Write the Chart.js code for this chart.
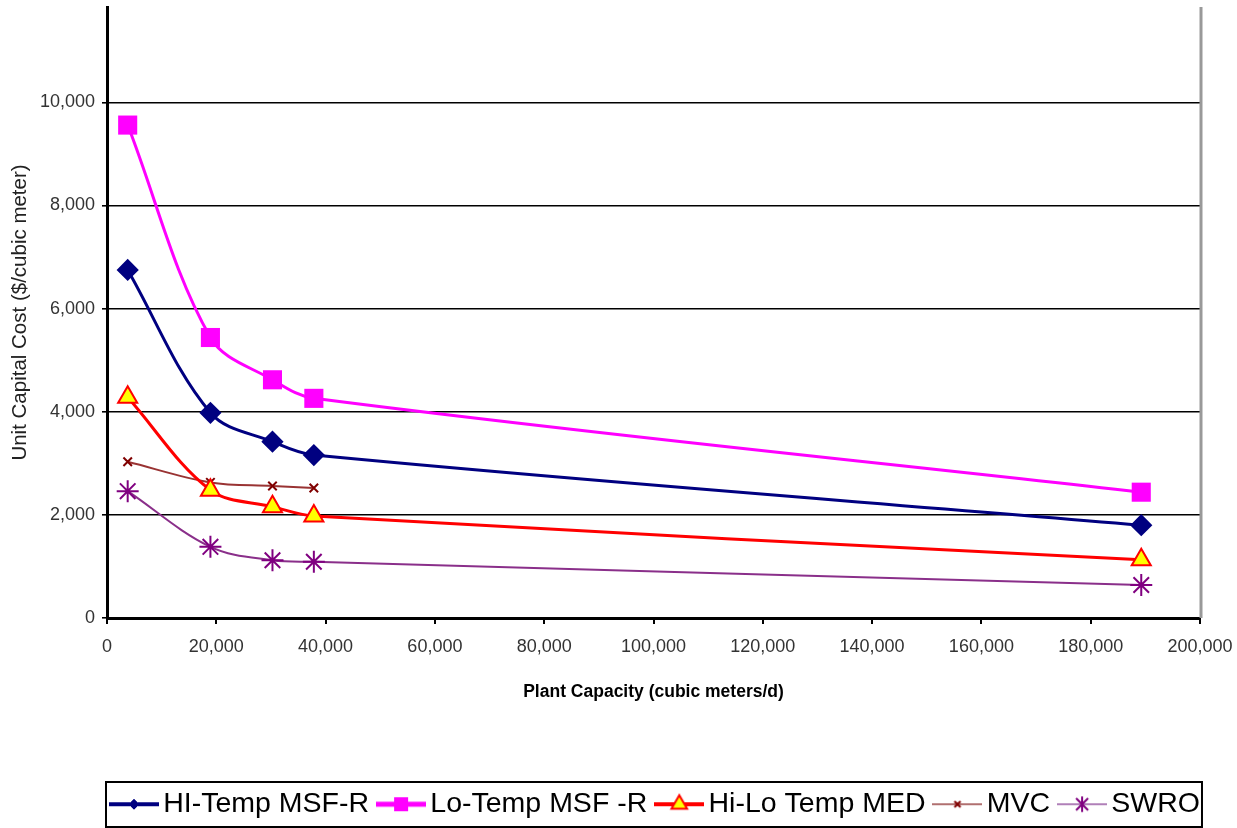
<!DOCTYPE html>
<html>
<head>
<meta charset="utf-8">
<title>Unit Capital Cost vs Plant Capacity</title>
<script src="https://cdn.jsdelivr.net/npm/chart.js@4.4.1/dist/chart.umd.min.js"></script>
<style>
  html, body { margin: 0; padding: 0; background: #fff; }
  #wrap { width: 1237px; height: 828px; position: relative; }
</style>
</head>
<body>
<div id="wrap"><canvas id="costChart"></canvas></div>
<script>
// plant capacity (m3/d) for 1, 5, 8, 10 and 50 MGD plants
const capacity = [3785, 18925, 30280, 37850, 189250];

// unit capital cost ($ per m3/d)
const hiTempMsf = [6750, 3980, 3420, 3160, 1800];
const loTempMsf = [9560, 5440, 4620, 4260, 2440];
const hiLoMed = [4280, 2480, 2160, 1980, 1130];
const mvc = [3030, 2630, 2560, 2520];
const swro = [2460, 1380, 1120, 1090, 640];

const seriesNames = ["HI-Temp MSF-R", "Lo-Temp MSF -R", "Hi-Lo Temp MED", "MVC", "SWRO"];
const yTicks = [0, 2000, 4000, 6000, 8000, 10000];
const xTicks = [0, 20000, 40000, 60000, 80000, 100000, 120000, 140000, 160000, 180000, 200000];

function points(values) {
  return values.map((v, i) => ({ x: capacity[i], y: v }));
}

// small canvas: line with marker, used as legend symbol
function legendIcon(s) {
  const c = document.createElement("canvas");
  c.width = 50; c.height = 28;
  const g = c.getContext("2d");
  const cx = 25, cy = 14, r = s.r;
  g.strokeStyle = s.line; g.lineWidth = s.lw;
  g.beginPath(); g.moveTo(0, cy); g.lineTo(50, cy); g.stroke();
  g.fillStyle = s.fill; g.strokeStyle = s.stroke; g.lineWidth = s.mw;
  g.beginPath();
  if (s.shape === "rectRot") {
    g.moveTo(cx, cy - r); g.lineTo(cx + r, cy); g.lineTo(cx, cy + r); g.lineTo(cx - r, cy); g.closePath();
    g.fill(); g.stroke();
  } else if (s.shape === "rect") {
    g.rect(cx - r, cy - r, 2 * r, 2 * r); g.fill();
  } else if (s.shape === "triangle") {
    g.moveTo(cx, cy - r); g.lineTo(cx + r * 0.87, cy + r * 0.5); g.lineTo(cx - r * 0.87, cy + r * 0.5); g.closePath();
    g.fill(); g.stroke();
  } else if (s.shape === "crossRot") {
    g.moveTo(cx - r, cy - r); g.lineTo(cx + r, cy + r); g.moveTo(cx + r, cy - r); g.lineTo(cx - r, cy + r); g.stroke();
  } else if (s.shape === "star") {
    g.moveTo(cx - r, cy - r); g.lineTo(cx + r, cy + r); g.moveTo(cx + r, cy - r); g.lineTo(cx - r, cy + r);
    g.moveTo(cx, cy - r * 1.3); g.lineTo(cx, cy + r * 1.3); g.stroke();
  }
  return c;
}

const legendIcons = [
  legendIcon({ shape: "rectRot", line: "#000080", lw: 4, fill: "#000080", stroke: "#000080", mw: 1, r: 5 }),
  legendIcon({ shape: "rect", line: "#ff00ff", lw: 5, fill: "#ff00ff", stroke: "#ff00ff", mw: 1, r: 7 }),
  legendIcon({ shape: "triangle", line: "#ff0000", lw: 4, fill: "#ffff00", stroke: "#ff0000", mw: 2, r: 9 }),
  legendIcon({ shape: "crossRot", line: "#b07070", lw: 2, fill: "#800000", stroke: "#800000", mw: 2, r: 3 }),
  legendIcon({ shape: "star", line: "#b080b8", lw: 2, fill: "#800080", stroke: "#800080", mw: 2, r: 6 })
];

const frame = {
  id: "frame",
  afterLayout(chart) {
    // legend row starts under the plot, like the original
    chart.legend.left = 102;
    chart.legend.right = 1237;
  },
  beforeDatasetsDraw(chart) {
    const { ctx, chartArea } = chart;
    ctx.save();
    ctx.strokeStyle = "#999";
    ctx.lineWidth = 3;
    ctx.beginPath();
    ctx.moveTo(chartArea.right + 1, chartArea.top);
    ctx.lineTo(chartArea.right + 1, chartArea.bottom);
    ctx.stroke();
    ctx.restore();
  },
  afterDraw(chart) {
    const lg = chart.legend;
    const pad = lg.options.labels.padding;
    const x0 = 106;
    const x1 = lg.left + pad + lg.lineWidths[0] - pad + 2;
    const { ctx } = chart;
    ctx.save();
    ctx.strokeStyle = "#000";
    ctx.lineWidth = 2;
    ctx.strokeRect(x0, 782, x1 - x0, 45);
    ctx.restore();
  }
};

const tickFont = { family: "'Liberation Sans', Arial, sans-serif", size: 18 };

new Chart(document.getElementById("costChart"), {
  type: "line",
  data: {
    datasets: [
      {
        label: seriesNames[0], data: points(hiTempMsf),
        borderColor: "#000080", borderWidth: 3,
        pointStyle: "rectRot", pointRadius: 9, pointBackgroundColor: "#000080", pointBorderColor: "#000080"
      },
      {
        label: seriesNames[1], data: points(loTempMsf),
        borderColor: "#ff00ff", borderWidth: 3,
        pointStyle: "rect", pointRadius: 13.5, pointBackgroundColor: "#ff00ff", pointBorderColor: "#ff00ff", pointBorderWidth: 0
      },
      {
        label: seriesNames[2], data: points(hiLoMed),
        borderColor: "#ff0000", borderWidth: 3,
        pointStyle: "triangle", pointRadius: 11, pointBackgroundColor: "#ffff00", pointBorderColor: "#ff0000", pointBorderWidth: 2
      },
      {
        label: seriesNames[3], data: points(mvc),
        borderColor: "#993333", borderWidth: 2,
        pointStyle: "crossRot", pointRadius: 6, pointBorderColor: "#800000", pointBorderWidth: 2
      },
      {
        label: seriesNames[4], data: points(swro),
        borderColor: "#8a2f8a", borderWidth: 2,
        pointStyle: "star", pointRadius: 11, pointBorderColor: "#800080", pointBorderWidth: 2
      }
    ]
  },
  options: {
    responsive: true,
    maintainAspectRatio: false,
    animation: false,
    devicePixelRatio: 1,
    tension: 0.35,
    layout: { autoPadding: false, padding: { top: 7, right: 37, bottom: 0, left: 0 } },
    plugins: {
      tooltip: { enabled: false },
      legend: {
        position: "bottom",
        align: "start",
        maxHeight: 55,
        labels: {
          usePointStyle: true,
          pointStyleWidth: 30,
          padding: 17,
          color: "#000",
          font: { family: "'Liberation Sans', Arial, sans-serif", size: 28.5 },
          generateLabels(chart) {
            const items = Chart.defaults.plugins.legend.labels.generateLabels(chart);
            return items.map((it, i) => Object.assign(it, { pointStyle: legendIcons[i] }));
          }
        }
      }
    },
    scales: {
      x: {
        type: "linear",
        min: 0, max: 200000,
        afterBuildTicks(s) { s.ticks = xTicks.map(v => ({ value: v })); },
        afterFit(s) { s.height = 828 - 618 - 55; s.paddingLeft = 0; s.paddingRight = 0; },
        ticks: { color: "#333", font: tickFont, padding: 12, maxRotation: 0 },
        grid: { drawOnChartArea: false, drawTicks: true, tickLength: 6, color: "#000", lineWidth: 2 },
        border: { color: "#000", width: 3 },
        title: {
          display: true,
          text: "Plant Capacity (cubic meters/d)",
          color: "#000",
          font: { family: "'Liberation Sans', Arial, sans-serif", size: 17.5, weight: "bold" },
          padding: { top: 0, bottom: 70 }
        }
      },
      y: {
        min: 0, max: 11850,
        afterBuildTicks(s) { s.ticks = yTicks.map(v => ({ value: v })); },
        afterFit(s) { s.width = 107; s.paddingTop = 0; s.paddingBottom = 0; },
        ticks: { color: "#333", font: { family: tickFont.family, size: 18, lineHeight: 0.5 }, padding: 7 },
        grid: { color: "#000", lineWidth: 1.6, tickLength: 5 },
        border: { color: "#000", width: 3 },
        title: {
          display: true,
          text: "Unit Capital Cost ($/cubic meter)",
          color: "#222",
          font: { family: "'Liberation Sans', Arial, sans-serif", size: 20.5 },
          padding: { top: 8, bottom: 0 }
        }
      }
    }
  },
  plugins: [frame]
});
</script>
</body>
</html>
